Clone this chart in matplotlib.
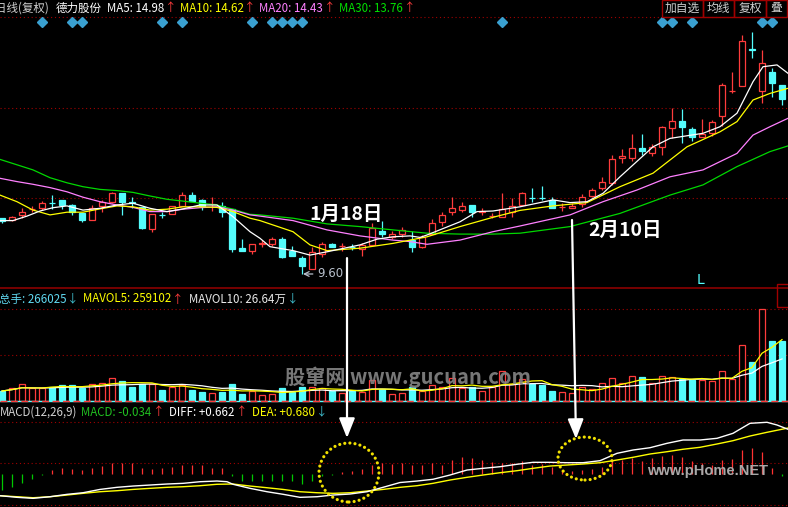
import matplotlib.pyplot as plt
from matplotlib.patches import Rectangle, Ellipse, ConnectionPatch, ArrowStyle
import numpy as np
import pandas as pd

plt.rcParams['font.family'] = ['Noto Sans CJK SC', 'DejaVu Sans']

# daily candles (price)
open_ = np.array([11.46, 11.39, 11.56, 11.76, 11.81, 11.97, 12.07, 11.90, 11.64, 11.40,
                  11.88, 12.01, 12.31, 11.99, 11.82, 11.09, 11.58, 11.59, 11.88, 12.23,
                  12.07, 11.92, 11.87, 11.77, 10.48, 10.38, 10.61, 10.60, 10.77, 10.37,
                  10.12, 9.77, 10.27, 10.60, 10.52, 10.50, 10.43, 10.57, 11.03, 10.84,
                  10.93, 10.73, 10.49, 10.93, 11.32, 11.66, 11.73, 11.90, 11.67, 11.52,
                  11.49, 11.66, 11.90, 12.13, 12.13, 12.07, 11.83, 11.79, 11.93, 12.21,
                  12.48, 12.62, 13.46, 13.48, 13.81, 13.64, 13.84, 14.48, 14.70, 14.43,
                  14.18, 14.29, 14.88, 15.70, 15.88, 17.10, 15.71, 16.34, 15.90])
high = np.array([11.47, 11.53, 11.79, 11.87, 12.03, 12.23, 12.07, 11.93, 11.64, 11.90,
                 12.07, 12.34, 12.31, 12.18, 11.82, 11.60, 11.68, 11.88, 12.34, 12.34,
                 12.09, 12.18, 12.01, 11.77, 10.77, 10.59, 10.73, 10.82, 10.83, 10.53,
                 10.20, 10.49, 10.68, 10.64, 10.62, 10.60, 10.64, 11.29, 11.38, 11.03,
                 11.16, 11.04, 10.90, 11.42, 11.68, 12.18, 12.01, 11.90, 11.79, 11.63,
                 12.31, 12.12, 12.34, 12.46, 12.53, 12.16, 11.98, 11.96, 12.27, 12.46,
                 12.82, 13.57, 13.76, 14.27, 14.27, 13.93, 14.53, 15.12, 15.10, 14.49,
                 14.76, 14.73, 15.96, 16.34, 17.57, 17.68, 17.07, 16.48, 15.90])
low = np.array([11.30, 11.37, 11.46, 11.68, 11.73, 11.77, 11.77, 11.57, 11.34, 11.40,
                11.68, 11.96, 11.57, 11.79, 11.10, 11.01, 11.48, 11.59, 11.88, 12.04,
                11.73, 11.71, 11.51, 10.34, 10.38, 10.27, 10.51, 10.54, 10.13, 10.21,
                9.60, 9.77, 10.18, 10.49, 10.38, 10.40, 10.21, 10.57, 10.82, 10.77,
                10.84, 10.34, 10.46, 10.93, 11.21, 11.57, 11.68, 11.49, 11.57, 11.47,
                11.49, 11.51, 11.90, 12.01, 12.07, 11.79, 11.71, 11.79, 11.84, 12.18,
                12.40, 12.57, 13.31, 13.38, 13.57, 13.54, 13.57, 14.12, 13.96, 14.04,
                14.18, 14.20, 14.53, 15.62, 15.88, 16.79, 15.29, 15.51, 15.23])
close_ = np.array([11.37, 11.49, 11.66, 11.77, 11.96, 11.95, 11.90, 11.68, 11.40, 11.79,
                   12.01, 12.31, 12.01, 11.97, 11.14, 11.60, 11.56, 11.88, 12.23, 12.04,
                   11.87, 11.93, 11.66, 10.44, 10.38, 10.59, 10.62, 10.77, 10.16, 10.21,
                   9.88, 10.32, 10.59, 10.51, 10.53, 10.49, 10.57, 11.12, 10.93, 10.93,
                   11.07, 10.49, 10.84, 11.29, 11.57, 11.79, 11.87, 11.68, 11.68, 11.53,
                   11.76, 11.87, 12.29, 12.12, 12.12, 11.81, 11.84, 11.87, 12.18, 12.40,
                   12.66, 13.42, 13.53, 13.79, 13.71, 13.82, 14.49, 14.70, 14.51, 14.18,
                   14.27, 14.68, 15.90, 15.71, 17.38, 17.08, 16.62, 15.98, 15.43])

# volume (lots)
volume = np.array([44340, 56310, 75380, 56310, 56310, 63410, 70940, 70940, 56310, 75380,
                   78480, 100650, 88680, 63410, 74050, 74050, 48770, 63410, 70940, 48770,
                   41240, 34140, 41240, 75380, 31040, 44340, 26600, 31040, 56310, 41240,
                   63410, 60750, 56310, 44340, 34140, 44340, 41240, 93110, 51880, 29710,
                   34140, 60750, 44340, 70940, 63410, 100650, 56310, 60750, 44340, 63410,
                   133020, 75380, 96220, 75380, 70940, 44340, 38580, 34140, 60750, 51880,
                   78480, 100650, 78480, 110850, 107750, 78480, 110850, 105090, 96220, 93110,
                   93110, 88680, 133020, 96220, 248300, 174260, 406600, 266030, 266025])

# moving average lines (x = candle index)
ma5_x = [-0.2, 1.1, 2.5, 3.8, 5.1, 6.5, 8.1, 9.8, 11.5, 13.1, 14.8, 16.5, 18.1, 19.8, 21.5, 23.1,
         24.8, 25.8, 26.8, 29.1, 30.8, 32.5, 35.8, 37.5, 39.1, 40.8, 41.8, 42.5, 45.8, 47.5, 49.1,
         51.8, 55.1, 56.8, 58.5, 60.1, 61.8, 65.1, 66.8, 70.1, 71.8, 73.5, 75.1, 76.1, 77.5, 78.6]
ma5 = [11.38, 11.38, 11.53, 11.70, 11.81, 11.87, 11.73, 11.79, 11.90, 11.96, 11.79, 11.68, 11.77,
       11.90, 11.90, 11.51, 11.01, 10.79, 10.51, 10.38, 10.23, 10.34, 10.57, 10.76, 10.84, 10.87,
       10.82, 10.90, 11.34, 11.68, 11.70, 11.84, 12.07, 11.98, 12.01, 12.29, 12.84, 13.84, 14.12,
       14.29, 14.51, 14.96, 16.01, 16.51, 16.57, 16.29]
ma10_x = [-0.2, 1.5, 3.1, 4.8, 6.5, 8.1, 9.8, 11.5, 13.1, 14.8, 16.5, 18.1, 19.8, 21.5, 23.1, 24.8,
          25.8, 29.1, 30.8, 32.5, 35.8, 39.1, 40.8, 42.5, 45.8, 49.1, 51.8, 55.1, 58.5, 61.8, 65.1,
          68.5, 71.8, 73.5, 75.1, 76.8, 78.6]
ma10 = [12.23, 12.01, 11.73, 11.57, 11.66, 11.66, 11.77, 11.87, 11.84, 11.73, 11.76, 11.84, 11.84,
        11.82, 11.68, 11.46, 11.38, 11.01, 10.57, 10.38, 10.46, 10.62, 10.73, 10.84, 11.18, 11.49,
        11.72, 11.87, 11.98, 12.51, 12.96, 13.84, 14.34, 14.68, 15.40, 15.62, 15.79]
ma20_x = [-0.2, 1.5, 3.1, 4.8, 6.5, 8.1, 9.8, 11.5, 13.1, 14.8, 16.5, 18.1, 19.8, 21.5, 23.1, 24.8,
          25.8, 29.1, 32.5, 35.8, 39.1, 40.8, 42.5, 45.8, 49.1, 51.8, 56.8, 60.1, 63.5, 66.8, 70.1,
          73.5, 75.1, 76.8, 78.6]
ma20 = [12.79, 12.68, 12.59, 12.48, 12.34, 12.16, 12.01, 11.90, 11.82, 11.68, 11.68, 11.76, 11.81,
        11.84, 11.73, 11.57, 11.53, 11.38, 11.07, 10.87, 10.73, 10.68, 10.59, 10.73, 11.01, 11.20,
        11.57, 12.01, 12.40, 12.84, 13.07, 13.62, 14.23, 14.51, 14.79]
ma30_x = [-0.2, 3.1, 4.8, 6.5, 8.1, 9.8, 11.5, 13.1, 14.8, 16.5, 18.1, 19.8, 21.5, 23.1, 24.8, 25.8,
          29.1, 32.5, 35.8, 39.1, 42.5, 45.8, 49.1, 51.8, 56.8, 61.8, 66.8, 70.1, 73.5, 76.8, 78.6]
ma30 = [13.42, 13.07, 12.81, 12.64, 12.51, 12.42, 12.38, 12.32, 12.20, 12.09, 12.03, 11.96, 11.90,
        11.76, 11.59, 11.57, 11.46, 11.27, 11.18, 11.07, 10.96, 10.93, 10.93, 10.96, 11.18, 11.62,
        12.23, 12.57, 13.18, 13.68, 13.87]

# MACD
macd_bar = [-0.232, -0.197, -0.133, -0.074, -0.015, 0.059, 0.084, 0.074, 0.059, 0.084,
            0.123, 0.167, 0.167, 0.158, 0.084, 0.074, 0.084, 0.108, 0.133, 0.133,
            0.133, 0.093, 0.084, -0.034, -0.099, -0.108, -0.108, -0.099, -0.108, -0.108,
            -0.148, -0.099, -0.030, -0.015, 0.034, 0.049, 0.070, 0.133, 0.167, 0.148,
            0.167, 0.133, 0.133, 0.167, 0.133, 0.207, 0.247, 0.232, 0.207, 0.182,
            0.158, 0.167, 0.192, 0.133, 0.148, 0.108, 0.059, 0.049, 0.059, 0.070,
            0.108, 0.207, 0.207, 0.232, 0.192, 0.232, 0.266, 0.281, 0.247, 0.192,
            0.158, 0.133, 0.207, 0.218, 0.355, 0.380, 0.330, 0.084, -0.034]
diff_x = [-0.2, 1.5, 3.1, 4.8, 6.5, 8.1, 9.8, 11.5, 13.1, 14.8, 16.5, 18.1, 19.8, 21.5, 22.5, 23.1,
          24.8, 26.5, 28.1, 29.8, 31.5, 33.1, 34.8, 36.5, 38.1, 39.8, 41.5, 43.1, 44.8, 46.5, 48.1,
          49.8, 51.5, 53.1, 54.8, 56.5, 58.1, 59.8, 61.5, 63.1, 64.8, 66.5, 68.1, 69.8, 71.5, 73.1,
          74.8, 76.5, 77.5, 78.6]
diff = [-0.321, -0.345, -0.360, -0.336, -0.301, -0.277, -0.228, -0.197, -0.178, -0.163, -0.148,
        -0.138, -0.114, -0.104, -0.114, -0.152, -0.212, -0.262, -0.300, -0.345, -0.336, -0.311,
        -0.296, -0.262, -0.197, -0.126, -0.104, -0.078, -0.015, 0.059, 0.084, 0.108, 0.144, 0.173,
        0.173, 0.167, 0.167, 0.197, 0.306, 0.355, 0.389, 0.454, 0.503, 0.503, 0.528, 0.602, 0.750,
        0.765, 0.725, 0.662]
dea_x = [-0.2, 1.5, 3.1, 4.8, 6.5, 8.1, 9.8, 11.5, 13.1, 14.8, 16.5, 18.1, 19.8, 21.5, 23.1, 24.8,
         26.5, 28.1, 29.8, 31.5, 33.1, 34.8, 36.5, 38.1, 39.8, 41.5, 43.1, 44.8, 46.5, 48.1, 49.8,
         51.5, 53.1, 54.8, 56.5, 58.1, 59.8, 61.5, 63.1, 64.8, 66.5, 68.1, 69.8, 71.5, 73.1, 74.8,
         76.5, 78.6]
dea = [-0.321, -0.336, -0.351, -0.336, -0.311, -0.286, -0.262, -0.247, -0.228, -0.212, -0.197,
       -0.188, -0.173, -0.152, -0.148, -0.178, -0.203, -0.228, -0.262, -0.277, -0.286, -0.277,
       -0.252, -0.228, -0.197, -0.173, -0.138, -0.089, -0.049, -0.015, 0.019, 0.049, 0.084, 0.118,
       0.133, 0.148, 0.167, 0.207, 0.247, 0.296, 0.330, 0.366, 0.395, 0.444, 0.493, 0.562, 0.617,
       0.680]

diamond_idx = [4, 7, 8, 16, 18, 25, 27, 28, 29, 30, 50, 66, 67, 69, 76, 77]

RED = '#ff3c3c'
CYAN = '#54fcfc'
GRID = '#a00000'
DOT = (0, (1, 2.5))

W, H = 788, 507
fig = plt.figure(figsize=(W / 100, H / 100), dpi=100, facecolor='black')


def panel(top, bottom):
    a = fig.add_axes([0, (H - bottom) / H, 1, (bottom - top) / H])
    a.axis('off')
    a.set_xlim(-0.2, 78.6)
    return a


ax = panel(17, 288)
axv = panel(288, 401)
axm = panel(401, 507)
ax.set_ylim(9.133, 18.167)
axv.set_ylim(0, 501000)
axm.set_ylim(-0.488, 1.080)

idx = np.arange(len(close_))
up = close_ >= open_
col = np.where(up, RED, CYAN)
face = np.where(up, 'black', CYAN)

# --- price panel
for lvl in (12.133, 15.133):
    ax.axhline(lvl, color=GRID, lw=0.8, ls=DOT)
ax.axhline(18.167, color=GRID, lw=0.8, ls=DOT, clip_on=False)
ax.axhline(9.133, color='#8b0000', lw=1.2, clip_on=False)

ax.vlines(idx, low, high, colors=col, lw=0.9, zorder=2)
ax.bar(idx, np.maximum(np.abs(close_ - open_), 0.015), bottom=np.minimum(open_, close_),
       width=0.62, color=face, edgecolor=col, lw=0.9, zorder=3)
ax.plot(ma30_x, ma30, color='#00d800', lw=0.9, zorder=4)
ax.plot(ma20_x, ma20, color='#ff80ff', lw=0.9, zorder=4)
ax.plot(ma10_x, ma10, color='#ffff00', lw=0.9, zorder=4)
ax.plot(ma5_x, ma5, color='white', lw=0.9, zorder=4)

ax.plot(diamond_idx, [0.981] * len(diamond_idx), transform=ax.get_xaxis_transform(),
        ls='none', marker='D', ms=4.6, color='#3aa0d0', clip_on=False)

ax.annotate('9.60', xy=(30.1, 9.60), xytext=(31.5, 9.60), color='#b8c0cc', fontsize=8.5,
            va='center', ha='left', family='DejaVu Sans',
            arrowprops=dict(arrowstyle='->', color='#b8c0cc', lw=0.9, shrinkA=1, shrinkB=0))
ax.text(69.9, 9.40, 'L', color=CYAN, fontsize=10, ha='center', va='center', family='DejaVu Sans')
ax.text(34.4, 11.6, '1月18日', color='white', fontsize=14, fontweight='bold',
        ha='center', va='center', zorder=6)
ax.text(62.3, 11.05, '2月10日', color='white', fontsize=14, fontweight='bold',
        ha='center', va='center', zorder=6)

# --- volume panel
for lvl in (204000, 408000):
    axv.axhline(lvl, color=GRID, lw=0.8, ls=DOT)
axv.bar(idx, volume, width=0.62, color=face, edgecolor=col, lw=0.9, zorder=2)
vs = pd.Series(volume)
axv.plot(idx, vs.rolling(10, min_periods=1).mean(), color='white', lw=0.9, zorder=3)
axv.plot(idx, vs.rolling(5, min_periods=1).mean(), color='#ffff00', lw=0.9, zorder=3)
axv.add_patch(Rectangle((777 / W, 94 / 113), 0.03, 0.2, transform=axv.transAxes,
                        fill=False, edgecolor='#a00000', lw=1, clip_on=False))

# --- MACD panel
axm.axhline(1.080, color=CYAN, lw=1.0, clip_on=False)
axm.axhline(1.080, color=RED, lw=1.0, ls=(0, (5, 2.5)), clip_on=False)
for lvl in (0.163, 0.770, -0.459):
    axm.axhline(lvl, color=GRID, lw=0.8, ls=DOT)
mb = np.array(macd_bar)
axm.vlines(idx, 0, mb, colors=np.where(mb >= 0, '#ff3232', '#00c800'), lw=0.9)
axm.plot(dea_x, dea, color='#ffff00', lw=1.0)
axm.plot(diff_x, diff, color='white', lw=1.0)

for cx, cy, w, h in ((34.7, 0.022, 6.0, 0.873), (58.3, 0.229, 5.4, 0.636)):
    e = Ellipse((cx, cy), w, h, fill=False, edgecolor='#f0e000', lw=2.3,
                ls=(0, (0.01, 1.6)), clip_on=False, zorder=5)
    e.set_capstyle('round')
    axm.add_patch(e)

# arrows from the date labels down to the MACD panel
for (xa, pa, xb, mb_) in ((34.5, 10.13, 34.5, 0.533), (57.0, 11.40, 57.4, 0.518)):
    con = ConnectionPatch(xyA=(xa, pa), coordsA=ax.transData, xyB=(xb, mb_), coordsB=axm.transData,
                          arrowstyle=ArrowStyle('-|>', head_length=1.0, head_width=0.4),
                          mutation_scale=12, color='white', lw=1.6, shrinkA=0, shrinkB=0, zorder=10)
    fig.add_artist(con)

# --- header texts, laid out one after the other
renderer = fig.canvas.get_renderer()


def header(x, y, parts, size=8.3):
    for s, c, gap in parts:
        t = fig.text(x / W, 1 - y / H, s, color=c, fontsize=size, ha='left', va='center')
        x = t.get_window_extent(renderer).x1 + gap


header(-5, 8, [('日线(复权)', '#d0d0d0', 7), ('德力股份', 'white', 5),
               ('MA5: 14.98', 'white', 1), ('↑', RED, 3),
               ('MA10: 14.62', '#ffff00', 1), ('↑', RED, 3),
               ('MA20: 14.43', '#ff80ff', 1), ('↑', RED, 4),
               ('MA30: 13.76', '#00e000', 1), ('↑', RED, 0)])
header(-1, 299, [('总手: 266025', '#60d8f0', 0), ('↓', '#40c0d0', 5),
                 ('MAVOL5: 259102', '#ffff00', 1), ('↑', RED, 5),
                 ('MAVOL10: 26.64万', '#e8e8e8', 1), ('↓', '#40c0d0', 0)])
header(0, 412, [('MACD(12,26,9)', '#d0d0d0', 4), ('MACD: -0.034', '#20c020', 1),
                ('↑', RED, 5), ('DIFF: +0.662', 'white', 1), ('↑', RED, 5),
                ('DEA: +0.680', '#ffff00', 1), ('↓', '#40c0d0', 0)])

for x0, x1, s in ((662, 703, '加自选'), (703, 734, '均线'), (734, 766, '复权'), (766, 787, '叠')):
    fig.add_artist(Rectangle((x0 / W, 1 - 17 / H), (x1 - x0) / W, 17 / H,
                             transform=fig.transFigure, fill=False, edgecolor='#a00000', lw=1))
    fig.text((x0 + x1) / 2 / W, 1 - 8 / H, s, color='#d0d0d0', fontsize=8.5, ha='center', va='center')

# watermarks
fig.text(285 / W, 1 - 377 / H, '股窜网 www.gucuan.com', color='#858585', alpha=0.9,
         fontsize=14.5, fontweight='bold', ha='left', va='center', zorder=8)
fig.text(647 / W, 1 - 471 / H, 'www.pHome.NET', color='#a8a8a8', fontsize=10.5,
         fontweight='bold', ha='left', va='center', family='Liberation Sans', zorder=8)

fig.savefig('out.png', dpi=100, facecolor='black')
